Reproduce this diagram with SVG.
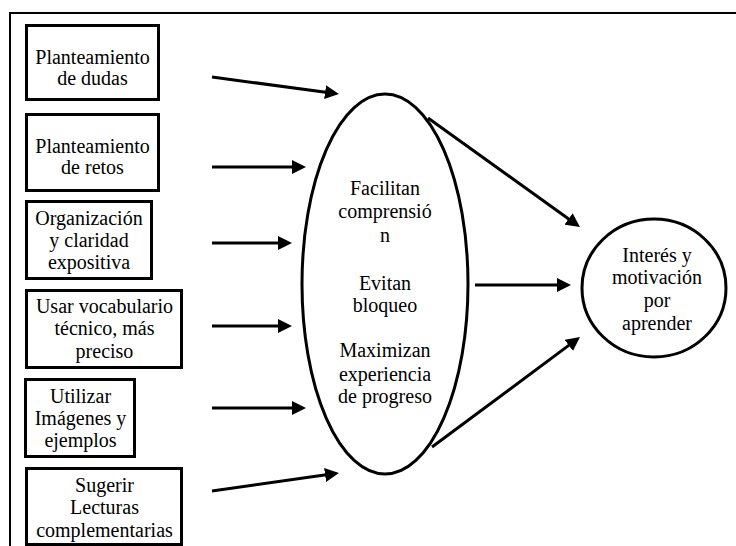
<svg xmlns="http://www.w3.org/2000/svg" width="736" height="546" viewBox="0 0 736 546">
  <defs>
    <marker id="arrow" viewBox="0 0 14 14" markerWidth="14" markerHeight="14" refX="10" refY="7" markerUnits="userSpaceOnUse" orient="auto">
      <path d="M0,0 L14,7 L0,14 z" fill="#000"/>
    </marker>
  </defs>
  <style>
    .box { fill: #fff; stroke: #000; stroke-width: 3; }
    .shape { fill: #fff; stroke: #000; stroke-width: 3; }
    .frame { stroke: #000; stroke-width: 2; fill: none; }
    .edge { stroke: #000; stroke-width: 3; fill: none; marker-end: url(#arrow); }
    text { font-size: 20px; fill: #000; text-anchor: middle; }
  </style>
  <rect width="736" height="546" fill="#fff"/>

  <!-- outer frame: top and left rules -->
  <path class="frame" d="M10,546 V13 H736"/>

  <g font-family="'Times New Roman', 'Liberation Serif', 'DejaVu Serif', serif">
  <!-- left column: teaching strategies -->
  <g id="dudas">
    <rect class="box" x="26.5" y="25.5" width="132" height="74"/>
    <text x="92.5" y="64">Planteamiento</text>
    <text x="92.5" y="85">de dudas</text>
  </g>
  <g id="retos">
    <rect class="box" x="26.5" y="114.5" width="132" height="76"/>
    <text x="92.5" y="153">Planteamiento</text>
    <text x="92.5" y="174">de retos</text>
  </g>
  <g id="organizacion">
    <rect class="box" x="26.5" y="201.5" width="125" height="77"/>
    <text x="89" y="225">Organización</text>
    <text x="89" y="247">y claridad</text>
    <text x="89" y="269">expositiva</text>
  </g>
  <g id="vocabulario">
    <rect class="box" x="26.5" y="290.5" width="155" height="77"/>
    <text x="104.5" y="313">Usar vocabulario</text>
    <text x="104.5" y="335">técnico, más</text>
    <text x="104.5" y="358">preciso</text>
  </g>
  <g id="imagenes">
    <rect class="box" x="25.5" y="379.5" width="109" height="77"/>
    <text x="80.5" y="403">Utilizar</text>
    <text x="80.5" y="425">Imágenes y</text>
    <text x="80.5" y="447">ejemplos</text>
  </g>
  <g id="lecturas">
    <rect class="box" x="26.5" y="468.5" width="155" height="76"/>
    <text x="104.5" y="492">Sugerir</text>
    <text x="104.5" y="514">Lecturas</text>
    <text x="104.5" y="537">complementarias</text>
  </g>

  <!-- central ellipse: effects -->
  <g id="efectos">
    <ellipse class="shape" cx="385" cy="284" rx="83" ry="190"/>
    <text x="385" y="195">Facilitan</text>
    <text x="385" y="218">comprensió</text>
    <text x="385" y="242">n</text>
    <text x="385" y="290">Evitan</text>
    <text x="385" y="312">bloqueo</text>
    <text x="385" y="357">Maximizan</text>
    <text x="385" y="381">experiencia</text>
    <text x="385" y="403">de progreso</text>
  </g>

  <!-- outcome circle -->
  <g id="interes">
    <ellipse class="shape" cx="654" cy="288" rx="72" ry="69"/>
    <text x="657" y="262">Interés y</text>
    <text x="657" y="284">motivación</text>
    <text x="657" y="307">por</text>
    <text x="657" y="330">aprender</text>
  </g>
  </g>

  <!-- connectors -->
  <g id="connectors">
    <line class="edge" x1="212" y1="77" x2="335" y2="93.5"/>
    <line class="edge" x1="212" y1="167" x2="302" y2="167"/>
    <line class="edge" x1="212" y1="243" x2="288" y2="243"/>
    <line class="edge" x1="212" y1="326" x2="288" y2="326"/>
    <line class="edge" x1="212" y1="408" x2="302" y2="408"/>
    <line class="edge" x1="212" y1="491" x2="335" y2="473.6"/>
    <line class="edge" x1="428" y1="118" x2="576.7" y2="224.7"/>
    <line class="edge" x1="475" y1="285" x2="567" y2="285"/>
    <line class="edge" x1="432" y1="447" x2="576.8" y2="339.4"/>
  </g>
</svg>
